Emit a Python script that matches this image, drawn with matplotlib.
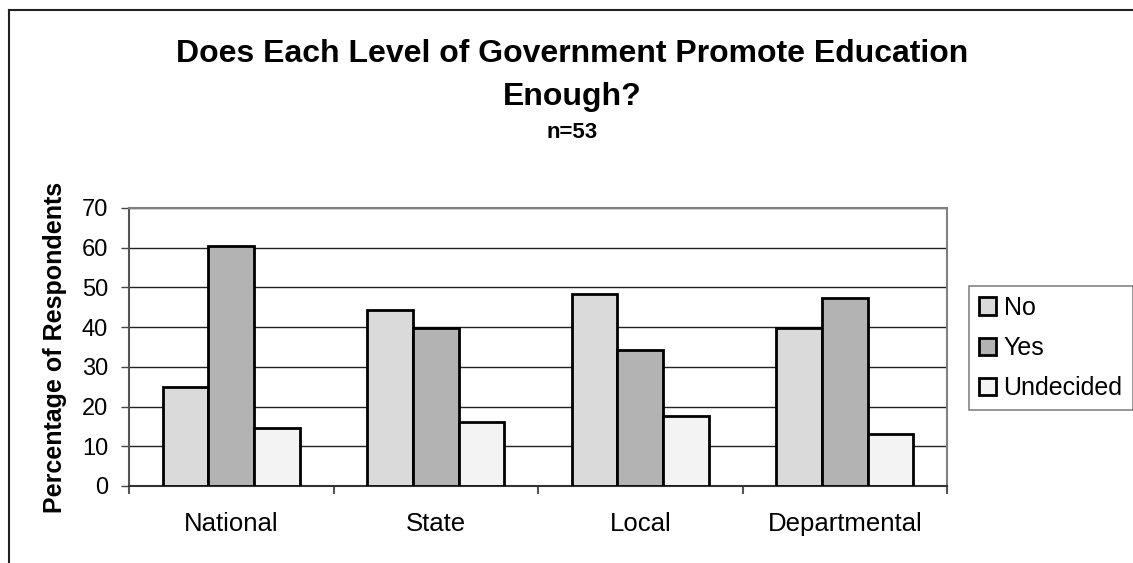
import numpy as np
import matplotlib
matplotlib.use('Agg')
import matplotlib.pyplot as plt
from matplotlib.lines import Line2D

plt.rcParams['font.family'] = ['Liberation Sans', 'DejaVu Sans']

categories = ['National', 'State', 'Local', 'Departmental']
series_names = ['No', 'Yes', 'Undecided']
no_vals = [25.0, 44.4, 48.3, 39.9]
yes_vals = [60.5, 39.8, 34.2, 47.3]
undecided_vals = [14.6, 16.0, 17.6, 13.1]
y_ticks = [0, 10, 20, 30, 40, 50, 60, 70]

series = [no_vals, yes_vals, undecided_vals]
fills = ['#dadada', '#b3b3b3', '#f3f3f3']

W, H = 1133, 563
fig = plt.figure(figsize=(W / 100, H / 100), dpi=100)
ax = fig.add_axes([129 / W, 1 - 486 / H, (947 - 129) / W, (486 - 208) / H])

x = np.arange(len(categories))
w = 0.224
for i, (vals, name, fc) in enumerate(zip(series, series_names, fills)):
    ax.bar(x + (i - 1) * w, vals, width=w, color=fc, edgecolor='black',
           linewidth=2, label=name, zorder=3)

ax.set_xlim(-0.5, len(categories) - 0.5)
ax.set_ylim(0, 70)
ax.set_yticks(y_ticks)
ax.yaxis.grid(True, color='#222222', linewidth=1, zorder=0)
ax.tick_params(axis='y', labelsize=17, length=6, width=1, color='#444444', pad=9)

# category labels centred, ticks on the boundaries
ax.set_xticks(x)
ax.set_xticklabels(categories, fontsize=18.5)
ax.tick_params(axis='x', which='major', length=0, pad=19)
ax.set_xticks(np.arange(len(categories) + 1) - 0.5, minor=True)
ax.tick_params(axis='x', which='minor', length=6, width=1.5, color='#555555')

ax.spines['top'].set_color('#808080')
ax.spines['right'].set_color('#808080')
ax.spines['left'].set_color('#555555')
ax.spines['bottom'].set_color('#333333')
for s in ax.spines.values():
    s.set_linewidth(1.5)

ax.set_ylabel('Percentage of Respondents', fontsize=18, fontweight='bold')
ax.yaxis.set_label_coords((67 - 129) / (947 - 129), 0.5)

cx = 572.5 / W
fig.text(cx, 1 - 62 / H, 'Does Each Level of Government Promote Education',
         ha='center', va='baseline', fontsize=23, fontweight='bold')
fig.text(cx, 1 - 105 / H, 'Enough?', ha='center', va='baseline',
         fontsize=23, fontweight='bold')
fig.text(cx, 1 - 138 / H, 'n=53', ha='center', va='baseline',
         fontsize=16, fontweight='bold')

leg = ax.legend(loc='center left', bbox_to_anchor=(969 / W, 1 - 348 / H),
                bbox_transform=fig.transFigure, fontsize=18, frameon=True,
                fancybox=False, edgecolor='#666666', handlelength=0.68,
                handleheight=0.68, handletextpad=0.3, labelspacing=0.65,
                borderpad=0.4, borderaxespad=0)
leg.get_frame().set_linewidth(1.2)

# chart area border (cut off at right and bottom)
fig.add_artist(Line2D([9 / W, 1], [1 - 10 / H, 1 - 10 / H], color='#222222',
                      linewidth=1.5, transform=fig.transFigure))
fig.add_artist(Line2D([9 / W, 9 / W], [0, 1 - 10 / H], color='#222222',
                      linewidth=1.5, transform=fig.transFigure))

fig.savefig('out.png', dpi=100)
